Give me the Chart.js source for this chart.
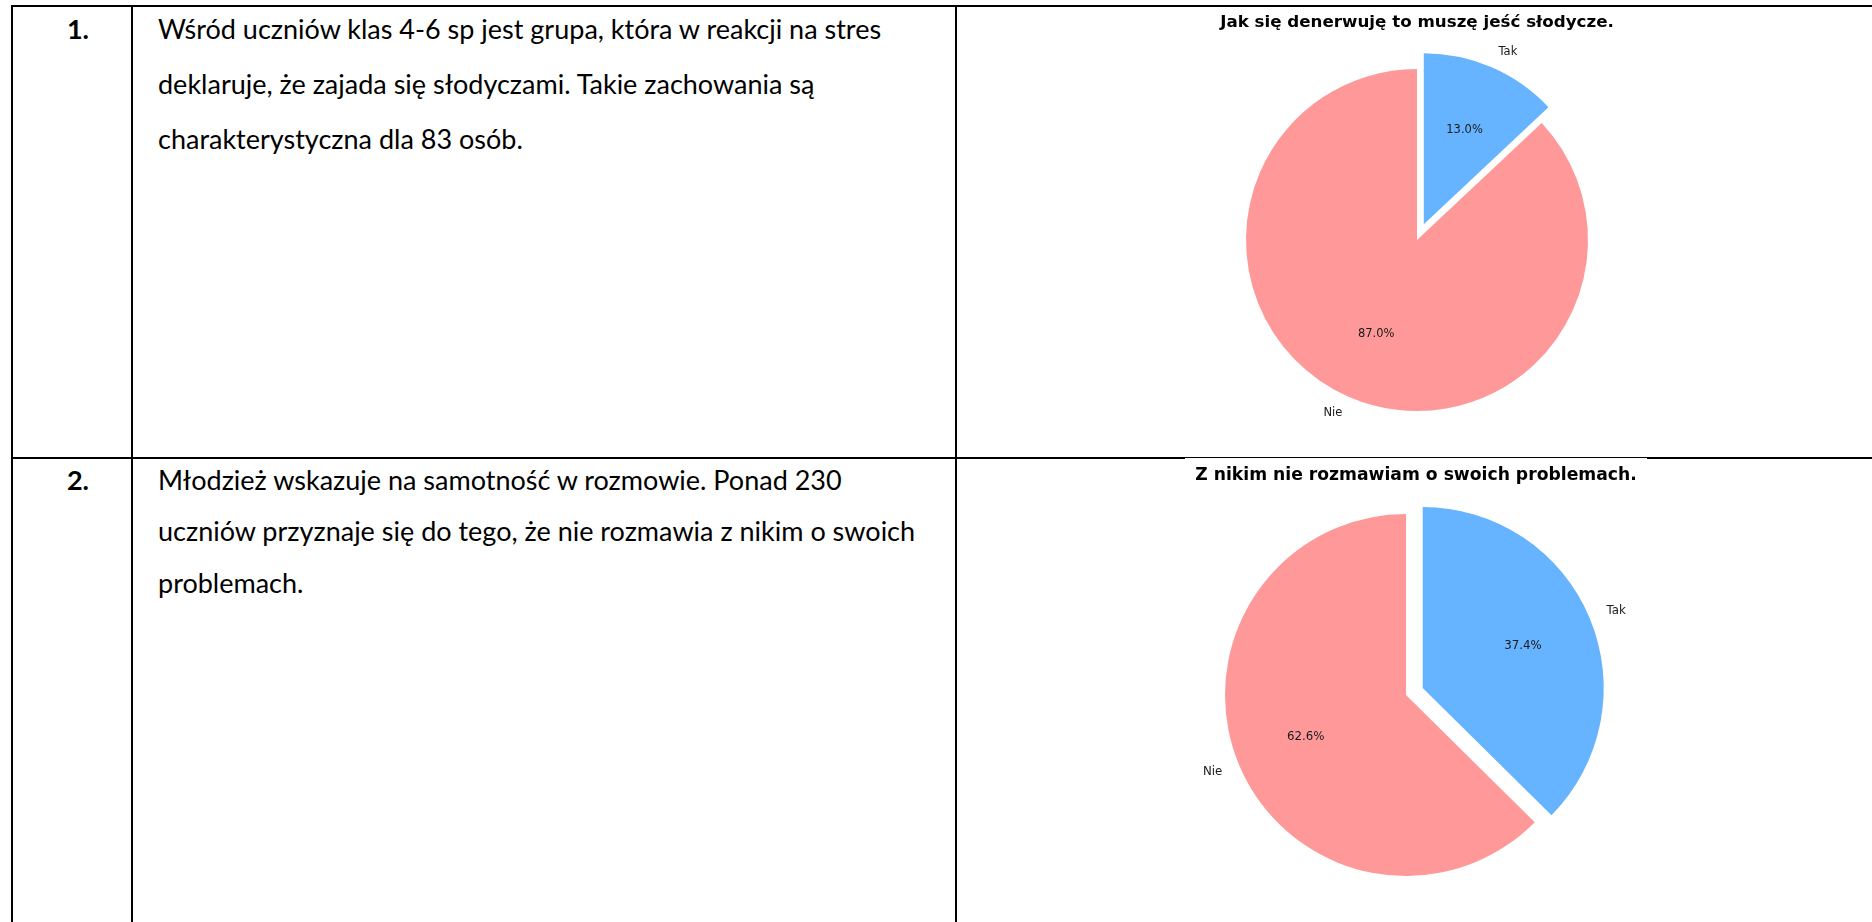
<!DOCTYPE html>
<html>
<head>
<meta charset="utf-8">
<script src="https://cdn.jsdelivr.net/npm/chart.js@4.4.0/dist/chart.umd.min.js"></script>
<style>
  body { margin: 0; background: #fff; width: 1872px; height: 922px; overflow: hidden; position: relative; font-family: Lato, "Open Sans", sans-serif; color: #000; }
  .hl { position: absolute; background: #000; height: 2px; }
  .vl { position: absolute; background: #000; width: 2px; }
  .num { position: absolute; left: 48px; width: 60px; text-align: center; font-weight: bold; font-size: 27px; line-height: 30px; }
  .txt { position: absolute; left: 158px; font-size: 27px; line-height: 30px; white-space: nowrap; }
  .box { position: absolute; }
</style>
</head>
<body>
<!-- table lines -->
<div class="hl" style="left:11px;top:5px;width:1861px"></div>
<div class="hl" style="left:11px;top:457px;width:1861px"></div>
<div class="vl" style="left:11px;top:5px;height:917px"></div>
<div class="vl" style="left:131px;top:5px;height:917px"></div>
<div class="vl" style="left:955px;top:5px;height:917px"></div>

<div class="num" style="top:14px">1.</div>
<div class="txt" style="top:14px">Wśród uczniów klas 4-6 sp jest grupa, która w reakcji na stres</div>
<div class="txt" style="top:69px">deklaruje, że zajada się słodyczami. Takie zachowania są</div>
<div class="txt" style="top:124px">charakterystyczna dla 83 osób.</div>

<div class="num" style="top:465px">2.</div>
<div class="txt" style="top:465px">Młodzież wskazuje na samotność w rozmowie. Ponad 230</div>
<div class="txt" style="top:516px">uczniów przyznaje się do tego, że nie rozmawia z nikim o swoich</div>
<div class="txt" style="top:568px">problemach.</div>

<div class="box" style="left:1117px;top:7px;width:600px;height:440px"><canvas id="pie1"></canvas></div>
<div class="box" style="left:1096px;top:460px;width:640px;height:440px"><canvas id="pie2"></canvas></div>
<!-- the pasted chart picture covers half of the row line -->
<div class="box" style="left:1185px;top:458px;width:462px;height:1px;background:#fff"></div>

<script>
const pieLabels = ["Tak", "Nie"];
const sweetsValues = [13.0, 87.0];   // "Jak się denerwuję..." in %
const talkValues = [37.4, 62.6];     // "Z nikim nie rozmawiam..." in %
const pieTitles = ["Jak się denerwuję to muszę jeść słodycze.", "Z nikim nie rozmawiam o swoich problemach."];
const sliceColors = ["#66b3ff", "#ff9999"];
const explodeBy = [0.1, 0];

// matplotlib look: exploded wedge, label at 1.1r, percent at 0.6r, title on top
const mplPie = {
  id: 'mplPie',
  beforeDatasetDraw(chart, args, opts) {
    const ctx = chart.ctx;
    args.meta.data.forEach((arc, i) => {
      const mid = (arc.startAngle + arc.endAngle) / 2;
      const ex = explodeBy[i] * arc.outerRadius;
      ctx.save();
      ctx.translate(Math.cos(mid) * ex, Math.sin(mid) * ex);
      arc.draw(ctx);
      ctx.restore();
    });
    return false;
  },
  afterDatasetsDraw(chart, args, opts) {
    const ctx = chart.ctx;
    const meta = chart.getDatasetMeta(0);
    const vals = chart.data.datasets[0].data;
    const total = vals.reduce((a, b) => a + b, 0);
    ctx.save();
    ctx.textBaseline = 'middle';
    ctx.fillStyle = '#1a1a1a';
    ctx.font = opts.labelFont;
    meta.data.forEach((arc, i) => {
      const mid = (arc.startAngle + arc.endAngle) / 2;
      const r = arc.outerRadius;
      const ex = explodeBy[i] * r;
      const cx = arc.x + Math.cos(mid) * ex;
      const cy = arc.y + Math.sin(mid) * ex;
      ctx.textAlign = Math.cos(mid) > 0 ? 'left' : 'right';
      ctx.fillText(chart.data.labels[i], cx + Math.cos(mid) * 1.1 * r, cy + Math.sin(mid) * 1.1 * r);
      ctx.textAlign = 'center';
      ctx.fillText((vals[i] / total * 100).toFixed(1) + '%', cx + Math.cos(mid) * 0.6 * r, cy + Math.sin(mid) * 0.6 * r);
    });
    ctx.fillStyle = '#000';
    ctx.font = opts.titleFont;
    ctx.textAlign = 'center';
    ctx.fillText(opts.title, chart.width / 2, opts.titleY);
    ctx.restore();
  }
};

function makePie(id, values, title, radius, padding, titleY, titleSize, labelSize) {
  new Chart(id, {
    type: 'pie',
    data: {
      labels: pieLabels,
      datasets: [{
        data: values,
        backgroundColor: sliceColors,
        borderWidth: 0
      }]
    },
    options: {
      responsive: true,
      maintainAspectRatio: false,
      animation: false,
      radius: radius,
      layout: { padding: padding },
      plugins: {
        legend: { display: false },
        tooltip: { enabled: false },
        mplPie: {
          title: title,
          titleY: titleY,
          titleFont: 'bold ' + titleSize + 'px "DejaVu Sans"',
          labelFont: labelSize + 'px "DejaVu Sans"'
        }
      }
    },
    plugins: [mplPie]
  });
}

makePie('pie1', sweetsValues, pieTitles[0], 171, { top: 26 }, 16, 16.7, 11.5);
makePie('pie2', talkValues, pieTitles[1], 181, { top: 30, right: 20 }, 16, 17.2, 11.8);
</script>
</body>
</html>
